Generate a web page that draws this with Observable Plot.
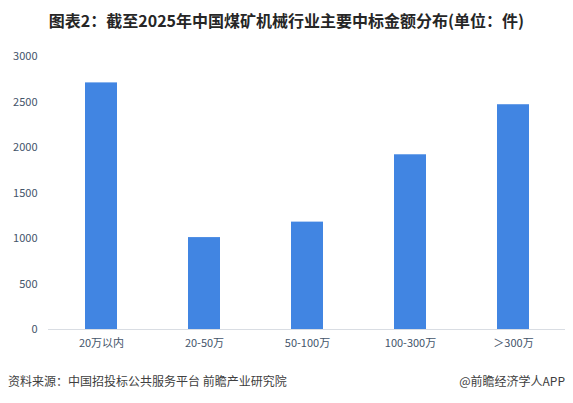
<!DOCTYPE html>
<html><head><meta charset="utf-8">
<script src="https://cdn.jsdelivr.net/npm/d3@7"></script>
<script src="https://cdn.jsdelivr.net/npm/@observablehq/plot@0.6"></script>
<style>
body{margin:0;background:#fff;width:573px;height:403px;overflow:hidden;font-family:"Noto Sans CJK SC","Noto Sans",sans-serif;}
#title{height:40px;line-height:40px;text-align:center;font-size:16px;font-weight:bold;color:#262626;}
#foot{position:relative;height:43px;font-size:12px;color:#404040;}
#foot .l{position:absolute;left:8px;top:12px;}
#foot .r{position:absolute;right:8px;top:12px;}
</style></head>
<body>
<div id="title">图表2：截至2025年中国煤矿机械行业主要中标金额分布(单位：件)</div>
<div id="chart"></div>
<div id="foot"><span class="l">资料来源：中国招投标公共服务平台 前瞻产业研究院</span><span class="r">@前瞻经济学人APP</span></div>
<script>
const categories = ["20万以内", "20-50万", "50-100万", "100-300万", "＞300万"];
const values = [2710, 1010, 1180, 1920, 2470];
const yTicks = [0, 500, 1000, 1500, 2000, 2500, 3000];
const data = categories.map((c, i) => ({c, v: values[i]}));
const plot = Plot.plot({
  width: 573, height: 320,
  marginTop: 16, marginBottom: 31, marginLeft: 48, marginRight: 8,
  style: {fontFamily: '"Noto Sans CJK SC","Noto Sans",sans-serif', fontSize: "11px", color: "#44546a"},
  x: {domain: categories, paddingInner: 0.69, paddingOuter: 0.345, label: null, tickSize: 0, tickPadding: 10},
  y: {domain: [0, 3000], ticks: yTicks, tickFormat: d => String(d), label: null, tickSize: 0, tickPadding: 11},
  marks: [
    Plot.barY(data, {x: "c", y: "v", fill: "#4185e2"}),
    Plot.ruleY([0], {stroke: "#d9dde3"})
  ]
});
document.getElementById("chart").appendChild(plot);
</script>
</body></html>
